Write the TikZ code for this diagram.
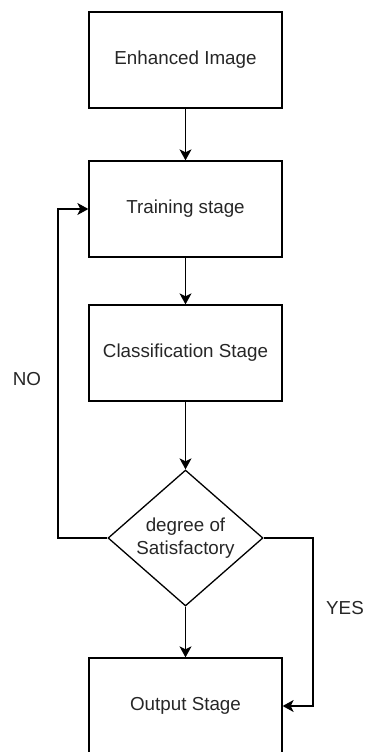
\documentclass[tikz,border=0pt]{standalone}
\usepackage{fontspec}
\setmainfont{Liberation Sans}
\usetikzlibrary{arrows.meta,shapes.geometric}
\begin{document}
\begin{tikzpicture}[x=1pt,y=-1pt,
  stagebox/.style={draw, line width=1.3pt, minimum width=193pt, minimum height=96pt,
    inner sep=0pt, font=\fontsize{18.8}{22}\selectfont, text=black!85},
  decision/.style={draw, line width=1.3pt, diamond, aspect=1.14, minimum width=155pt,
    minimum height=136pt, inner sep=0pt, align=center,
    font=\fontsize{18.8}{23}\selectfont, text=black!85},
  flow/.style={line width=1.3pt, -{Stealth[length=11pt,width=12pt,inset=3pt]}},
  lbl/.style={font=\fontsize{18.8}{22}\selectfont, text=black!85}]
  \useasboundingbox (0,0) rectangle (367,752);
  % process boxes
  \node[stagebox] (enh)   at (185.5,60)  {Enhanced Image};
  \node[stagebox] (train) at (185.5,209) {Training stage};
  \node[stagebox] (cls)   at (185.5,353) {Classification Stage};
  \node[decision] (dec)   at (185.5,538) {degree of\\Satisfactory};
  \node[stagebox] (out)   at (185.5,706) {Output Stage};
  % main flow
  \draw[flow] (enh) -- (train);
  \draw[flow] (train) -- (cls);
  \draw[flow] (cls) -- (dec.north);
  \draw[flow] (dec.south) -- (out);
  % feedback and exit branches
  \draw[flow] (dec.west) -| (58,538) |- (train.west);
  \draw[flow] (dec.east) -| (313,538) |- (out.east);
  \node[lbl] (no)  at (27,379)  {NO};
  \node[lbl] (yes) at (345,608) {YES};
\end{tikzpicture}
\end{document}
